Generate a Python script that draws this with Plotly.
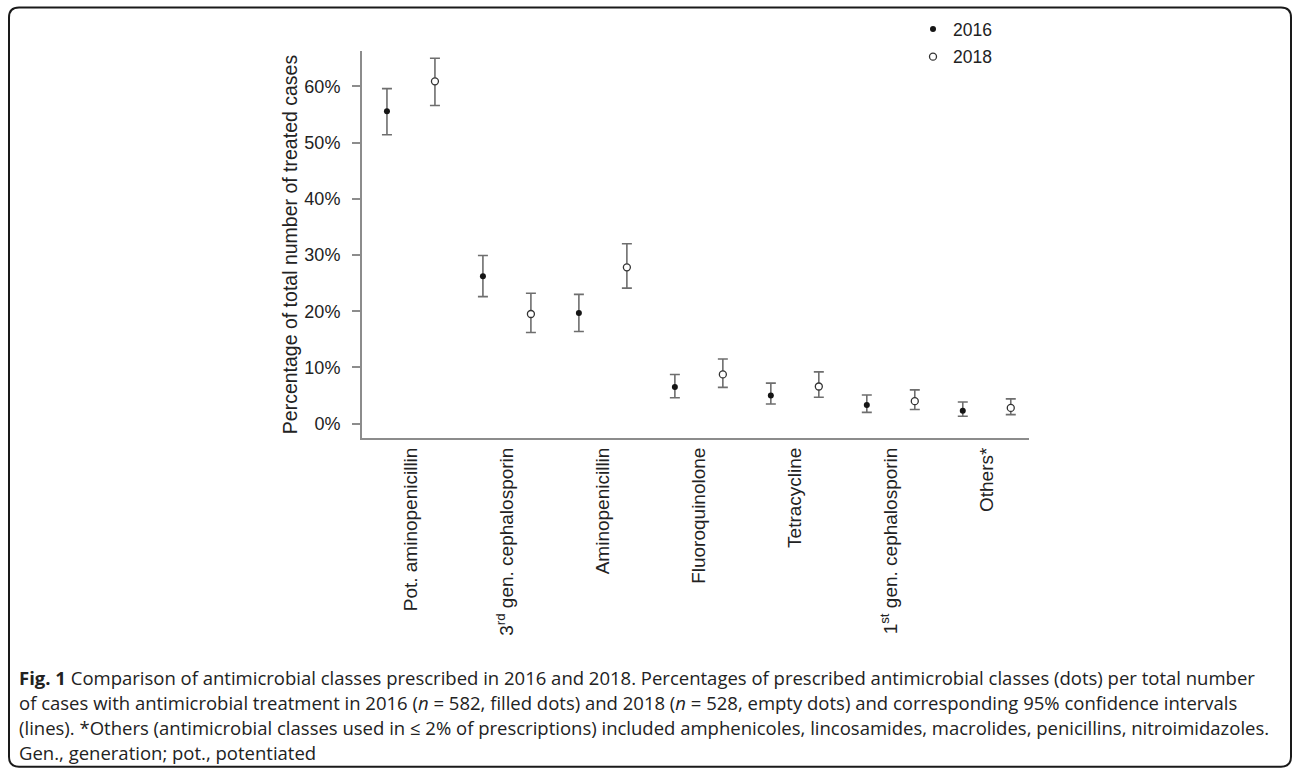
import plotly.graph_objects as go

# ---------------- data ----------------
categories = [
    "Pot. aminopenicillin",
    "3<sup>rd</sup> gen. cephalosporin",
    "Aminopenicillin",
    "Fluoroquinolone",
    "Tetracycline",
    "1<sup>st</sup> gen. cephalosporin",
    "Others*",
]
pct_2016 = [55.6, 26.2, 19.7, 6.5, 5.0, 3.3, 2.3]
low_2016 = [51.4, 22.6, 16.4, 4.6, 3.5, 2.0, 1.3]
high_2016 = [59.6, 29.9, 23.0, 8.75, 7.2, 5.1, 3.85]

pct_2018 = [60.9, 19.5, 27.8, 8.75, 6.6, 4.0, 2.8]
low_2018 = [56.6, 16.2, 24.1, 6.45, 4.7, 2.5, 1.6]
high_2018 = [65.0, 23.2, 32.0, 11.5, 9.2, 6.0, 4.4]

y_ticks = [0, 10, 20, 30, 40, 50, 60]
y_tick_text = ["0%", "10%", "20%", "30%", "40%", "50%", "60%"]

caption_lines = [
    "<b>Fig. 1</b> Comparison of antimicrobial classes prescribed in 2016 and 2018. Percentages of prescribed antimicrobial classes (dots) per total number",
    "of cases with antimicrobial treatment in 2016 (<i>n</i> = 582, filled dots) and 2018 (<i>n</i> = 528, empty dots) and corresponding 95% confidence intervals",
    "(lines). *Others (antimicrobial classes used in \u2264 2% of prescriptions) included amphenicoles, lincosamides, macrolides, penicillins, nitroimidazoles.",
    "Gen., generation; pot., potentiated",
]

# ---------------- layout geometry (pixels) ----------------
W, H = 1296, 770
PL, PR, PT, PB = 362, 1029, 50, 438  # plot area edges


def xp(px):
    return (px - PL) / (PR - PL)


def yp(py):
    return (PB - py) / (PB - PT)


TEXT = "#222222"
AXIS = "#8c8c8c"
FONT = "Liberation Sans, Arial, sans-serif"
CAP_FONT = "Open Sans, Noto Sans, sans-serif"

idx = list(range(len(categories)))
off = 0.25
x16 = [i - off for i in idx]
x18 = [i + off for i in idx]

fig = go.Figure()
fig.add_trace(go.Scatter(
    x=x16, y=pct_2016, mode="markers", name="2016", legendgroup="a",
    marker=dict(symbol="circle", size=6, color="#151515", line=dict(width=0)),
    error_y=dict(type="data", symmetric=False,
                 array=[h - v for h, v in zip(high_2016, pct_2016)],
                 arrayminus=[v - l for v, l in zip(pct_2016, low_2016)],
                 color="#6e6e6e", thickness=1.6, width=5),
))
fig.add_trace(go.Scatter(
    x=x18, y=pct_2018, mode="markers", name="2018", legendgroup="b",
    marker=dict(symbol="circle", size=7, color="white", line=dict(width=1.3, color="#333333")),
    error_y=dict(type="data", symmetric=False,
                 array=[h - v for h, v in zip(high_2018, pct_2018)],
                 arrayminus=[v - l for v, l in zip(pct_2018, low_2018)],
                 color="#6e6e6e", thickness=1.6, width=5),
))

# frame with rounded corners
fl, ft, fr, fb, r = 9, 6.5, 1291, 767.5, 10
path = (
    f"M {xp(fl + r)},{yp(ft)} L {xp(fr - r)},{yp(ft)} Q {xp(fr)},{yp(ft)} {xp(fr)},{yp(ft + r)} "
    f"L {xp(fr)},{yp(fb - r)} Q {xp(fr)},{yp(fb)} {xp(fr - r)},{yp(fb)} "
    f"L {xp(fl + r)},{yp(fb)} Q {xp(fl)},{yp(fb)} {xp(fl)},{yp(fb - r)} "
    f"L {xp(fl)},{yp(ft + r)} Q {xp(fl)},{yp(ft)} {xp(fl + r)},{yp(ft)} Z"
)
shapes = [dict(type="path", xref="paper", yref="paper", path=path,
               line=dict(color="#1a1a1a", width=2), fillcolor="rgba(0,0,0,0)", layer="below")]

annotations = []
cap_y = [678, 703, 728, 753]
for line, cy in zip(caption_lines, cap_y):
    annotations.append(dict(
        text=line, xref="paper", yref="paper", x=xp(17), y=yp(cy),
        xanchor="left", yanchor="middle", showarrow=False, align="left",
        font=dict(family=CAP_FONT, size=18.5, color=TEXT),
    ))

fig.update_layout(
    width=W, height=H,
    margin=dict(l=PL, r=W - PR, t=PT, b=H - PB),
    paper_bgcolor="white", plot_bgcolor="white",
    font=dict(family=FONT, size=18, color=TEXT),
    showlegend=True,
    legend=dict(x=xp(913), y=yp(11), xanchor="left", yanchor="top",
                font=dict(size=17.5, color=TEXT), bgcolor="rgba(0,0,0,0)",
                itemwidth=30, tracegroupgap=2),
    shapes=shapes,
    annotations=annotations,
    xaxis=dict(
        range=[-0.51, 6.44], tickmode="array", tickvals=idx, ticktext=categories,
        tickangle=-90, ticks="", showline=True, linecolor=AXIS, linewidth=2,
        showgrid=False, zeroline=False, tickfont=dict(size=19, color=TEXT),
        fixedrange=True,
    ),
    yaxis=dict(
        range=[-2.56, 66.3], tickmode="array", tickvals=y_ticks, ticktext=y_tick_text,
        ticks="outside", ticklen=8, tickcolor=AXIS, tickwidth=1.5,
        ticklabelstandoff=8,
        showline=True, linecolor=AXIS, linewidth=2, showgrid=False, zeroline=False,
        tickfont=dict(size=18, color=TEXT),
        title=dict(text="Percentage of total number of treated cases",
                   font=dict(size=19.5, color=TEXT), standoff=2),
        fixedrange=True,
    ),
)

fig.write_html("out.html")
